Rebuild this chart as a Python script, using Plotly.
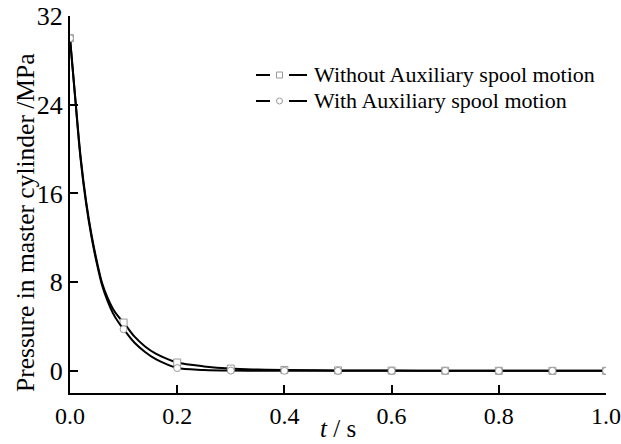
import plotly.graph_objects as go

# time samples (s)
t = [0.0, 0.01, 0.02, 0.03, 0.04, 0.05, 0.06, 0.07, 0.08, 0.09, 0.10,
     0.12, 0.14, 0.16, 0.18, 0.20, 0.25, 0.30, 0.35, 0.40,
     0.50, 0.60, 0.70, 0.80, 0.90, 1.00]

# master cylinder pressure (MPa)
p_without = [30.0, 24.5, 19.2, 15.3, 12.3, 9.9, 7.9, 6.6, 5.6, 4.9, 4.35,
             3.1, 2.2, 1.55, 1.1, 0.75, 0.4, 0.2, 0.12, 0.08,
             0.04, 0.02, 0.01, 0.0, 0.0, 0.0]
p_with = [30.0, 24.4, 19.0, 15.1, 12.1, 9.7, 7.7, 6.3, 5.2, 4.4, 3.75,
          2.55, 1.7, 1.05, 0.6, 0.25, 0.08, 0.02, 0.01, 0.0,
          0.0, 0.0, 0.0, 0.0, 0.0, 0.0]

series_names = ["Without Auxiliary spool motion", "With Auxiliary spool motion"]
marker_symbols = ["square", "circle"]

x_ticks = [0.0, 0.2, 0.4, 0.6, 0.8, 1.0]
x_ticktext = ["0.0", "0.2", "0.4", "0.6", "0.8", "1.0"]
y_ticks = [0, 8, 16, 24, 32]

SERIF = "Liberation Serif"
W, H = 621, 444
M_L, M_R, M_T, M_B = 70, 15, 16, 51
PW, PH = W - M_L - M_R, H - M_T - M_B


def px_x(px):
    """pixel column -> paper x"""
    return (px - M_L) / PW


def px_y(py):
    """pixel row -> paper y"""
    return (H - M_B - py) / PH


fig = go.Figure()

for name, vals, sym in zip(series_names, [p_without, p_with], marker_symbols):
    # smooth curve
    fig.add_trace(go.Scatter(x=t, y=vals, mode="lines", name=name, showlegend=False,
                             line=dict(color="black", width=2, shape="spline"),
                             hoverinfo="skip"))
    # markers every 0.1 s
    on_grid = [abs(round(ti * 10) - ti * 10) < 1e-9 for ti in t]
    mx = [ti for ti, k in zip(t, on_grid) if k]
    my = [v for v, k in zip(vals, on_grid) if k]
    fig.add_trace(go.Scatter(x=mx, y=my, mode="markers", name=name, showlegend=False,
                             marker=dict(symbol=sym, size=7, color="white",
                                         line=dict(color="#9a9a9a", width=1))))

# key: line - symbol - line, then the label
shapes = []
annotations = []
for i, (name, sym) in enumerate(zip(series_names, marker_symbols)):
    row_y = px_y(75 + 26 * i)
    for a, b in [(256, 270), (289, 307)]:
        shapes.append(dict(type="line", xref="paper", yref="paper",
                           x0=px_x(a), x1=px_x(b), y0=row_y, y1=row_y,
                           line=dict(color="black", width=2)))
    shapes.append(dict(type="rect" if sym == "square" else "circle",
                       xref="paper", yref="paper",
                       xsizemode="pixel", ysizemode="pixel",
                       xanchor=px_x(279.5), yanchor=row_y,
                       x0=-3, x1=3, y0=-3, y1=3,
                       fillcolor="white", line=dict(color="#9a9a9a", width=1)))
    annotations.append(dict(text=name, xref="paper", yref="paper",
                            x=px_x(312), y=row_y, xanchor="left", yanchor="middle",
                            showarrow=False,
                            font=dict(size=22, family=SERIF, color="black")))

annotations.append(dict(text="Pressure in master cylinder /MPa", textangle=-90,
                        xref="paper", yref="paper", x=px_x(25), y=px_y(223),
                        xanchor="center", yanchor="middle", showarrow=False,
                        font=dict(size=25.5, family=SERIF, color="black")))
annotations.append(dict(text="<i>t</i> / s", xref="paper", yref="paper",
                        x=px_x(338), y=px_y(428), xanchor="center", yanchor="middle",
                        showarrow=False,
                        font=dict(size=25, family=SERIF, color="black")))

fig.update_layout(
    width=W, height=H,
    margin=dict(l=M_L, r=M_R, t=M_T, b=M_B, autoexpand=False),
    paper_bgcolor="white", plot_bgcolor="white",
    font=dict(family=SERIF, color="black"),
    showlegend=False,
    xaxis=dict(range=[0, 1], tickvals=x_ticks, ticktext=x_ticktext,
               ticks="inside", ticklen=8, tickwidth=2, tickcolor="black",
               showline=True, linecolor="black", linewidth=2,
               showgrid=False, zeroline=False, automargin=False,
               tickfont=dict(size=24, family=SERIF)),
    yaxis=dict(range=[-2, 32], tickvals=y_ticks,
               ticks="inside", ticklen=8, tickwidth=2, tickcolor="black",
               showline=True, linecolor="black", linewidth=2,
               showgrid=False, zeroline=False, automargin=False,
               tickfont=dict(size=26, family=SERIF)),
    shapes=shapes,
    annotations=annotations,
)

fig.write_html("out.html")
